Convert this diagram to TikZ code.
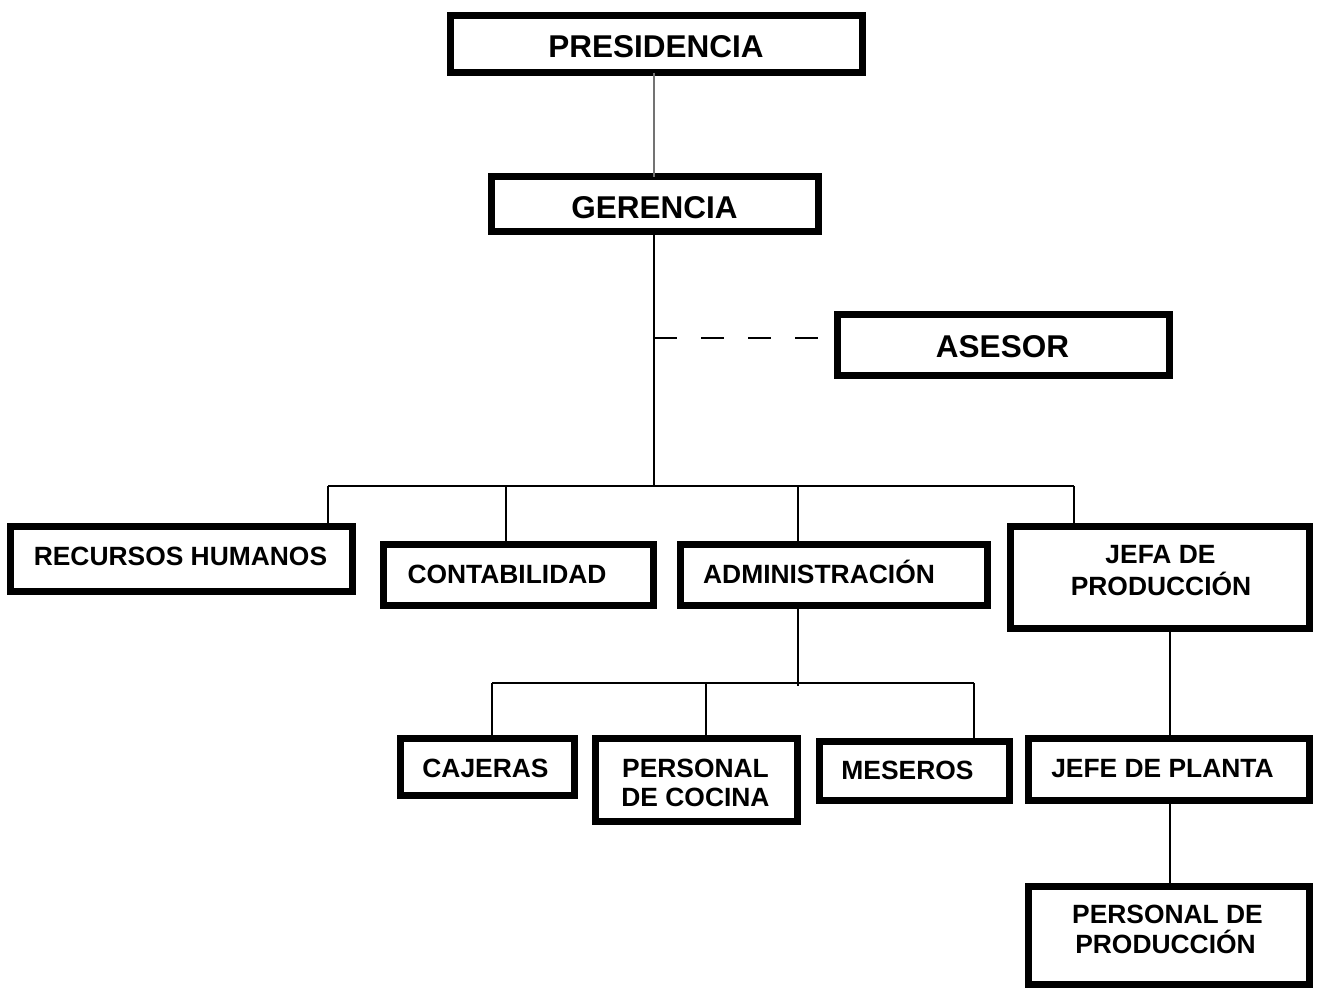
\documentclass[tikz,border=0pt]{standalone}
\usepackage{fontspec}
\setmainfont{Liberation Sans}
\begin{document}
\begin{tikzpicture}[x=1pt,y=-1pt,
  box/.style={draw=black,line width=7pt,fill=white,inner sep=0pt,outer sep=0pt},
  bigtxt/.style={font=\fontsize{31.5}{36}\selectfont\bfseries,inner sep=0pt,anchor=base},
  txt/.style={font=\fontsize{26.4}{29}\selectfont\bfseries,inner sep=0pt,anchor=base},
  conn/.style={line width=2pt,black},
  thinconn/.style={line width=1.5pt,black!55}]
\useasboundingbox (0,0) rectangle (1318,989);
% boxes
\node[box,minimum width=412pt,minimum height=57pt] (pres) at (656.5,44) {};
\node[box,minimum width=327pt,minimum height=55pt] (ger) at (655,204) {};
\node[box,minimum width=332pt,minimum height=61pt] (ases) at (1003.5,345) {};
\node[box,minimum width=342pt,minimum height=65pt] (rh) at (181.5,559) {};
\node[box,minimum width=270pt,minimum height=61pt] (cont) at (518.5,575) {};
\node[box,minimum width=307pt,minimum height=61pt] (admin) at (834,575) {};
\node[box,minimum width=299pt,minimum height=102pt] (jefa) at (1160,577.5) {};
\node[box,minimum width=174pt,minimum height=57pt] (caj) at (487.5,767) {};
\node[box,minimum width=202pt,minimum height=83pt] (pdc) at (696.5,780) {};
\node[box,minimum width=190pt,minimum height=59pt] (mes) at (914.5,771) {};
\node[box,minimum width=281pt,minimum height=62pt] (jdp) at (1169,769.5) {};
\node[box,minimum width=281pt,minimum height=98pt] (pp) at (1169,935.5) {};
% texts
\node[bigtxt] (pres-t) at (656,57) {PRESIDENCIA};
\node[bigtxt] (ger-t) at (654.5,218) {GERENCIA};
\node[bigtxt] (ases-t) at (1002.5,357) {ASESOR};
\node[txt] (rh-t) at (180.5,565) {RECURSOS HUMANOS};
\node[txt] (cont-t) at (507,583) {CONTABILIDAD};
\node[txt] (admin-t) at (819,583) {ADMINISTRACIÓN};
\node[txt] (jefa-t1) at (1160.5,563) {JEFA DE};
\node[txt] (jefa-t2) at (1161,595) {PRODUCCIÓN};
\node[txt] (caj-t) at (485.5,777) {CAJERAS};
\node[txt] (pdc-t1) at (695.5,777) {PERSONAL};
\node[txt] (pdc-t2) at (695.5,806) {DE COCINA};
\node[txt] (mes-t) at (907.5,779) {MESEROS};
\node[txt] (jdp-t) at (1162.5,777) {JEFE DE PLANTA};
\node[txt] (pp-t1) at (1167.5,923) {PERSONAL DE};
\node[txt] (pp-t2) at (1165.5,953) {PRODUCCIÓN};
% coordinates
\coordinate (trunk) at (654,486);
\coordinate (dashstart) at (654,338);
\coordinate (b1) at (328,486);
\coordinate (b2) at (506,486);
\coordinate (b3) at (798,486);
\coordinate (b4) at (1074,486);
\coordinate (a0) at (798,686);
\coordinate (c1) at (492,683);
\coordinate (c2) at (706,683);
\coordinate (c3) at (974,683);
\coordinate (p0) at (1170,632);
% connectors
\draw[thinconn] (trunk |- pres.south) -- (trunk |- ger.north);
\draw[conn] (trunk |- ger.south) -- (trunk);
\draw[conn,dash pattern=on 23pt off 24pt,shorten >=15pt] (dashstart) -- (dashstart -| ases.west);
\draw[conn] (b1) -- (b4);
\draw[conn] (b1) -- (b1 |- rh.north);
\draw[conn] (b2) -- (b2 |- cont.north);
\draw[conn] (b3) -- (b3 |- admin.north);
\draw[conn] (b4) -- (b4 |- jefa.north);
\draw[conn] (a0 |- admin.south) -- (a0);
\draw[conn] (c1) -- (c3);
\draw[conn] (c1) -- (c1 |- caj.north);
\draw[conn] (c2) -- (c2 |- pdc.north);
\draw[conn] (c3) -- (c3 |- mes.north);
\draw[conn] (p0 |- jefa.south) -- (p0 |- jdp.north);
\draw[conn] (p0 |- jdp.south) -- (p0 |- pp.north);
\end{tikzpicture}
\end{document}
